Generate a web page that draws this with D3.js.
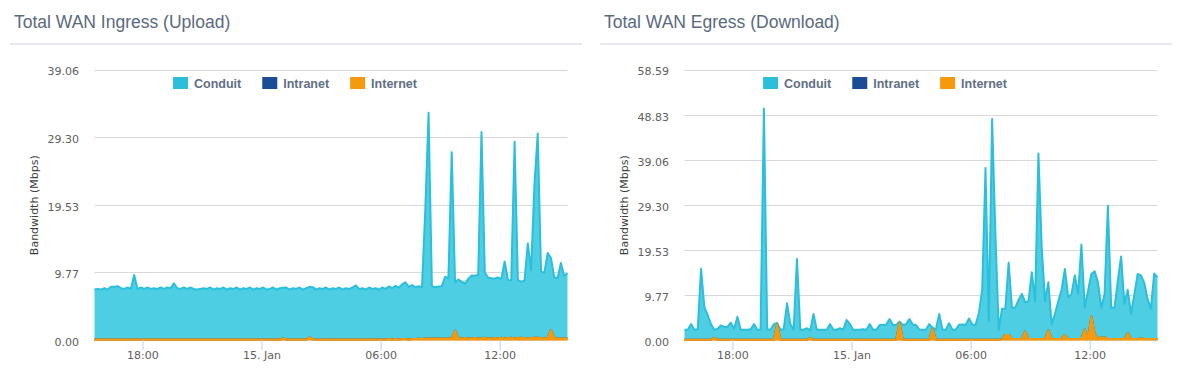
<!DOCTYPE html>
<html>
<head>
<meta charset="utf-8">
<script src="https://cdn.jsdelivr.net/npm/d3@7"></script>
<style>
    body { margin: 0; background: #fff; }
    svg { display: block; }
    .title { font-family: "Liberation Sans", Arial, sans-serif; font-size: 17.5px; fill: #5a6a7e; }
    .legend text { font-family: "Liberation Sans", Arial, sans-serif; font-size: 12.5px; font-weight: bold; fill: #616f84; }
    .axis text { font-family: "DejaVu Sans", sans-serif; font-size: 11px; fill: #606060; }
    .ytitle { font-family: "DejaVu Sans", sans-serif; font-size: 11px; fill: #3d3d3d; }
</style>
</head>
<body>
<svg id="chart" width="1178" height="371"></svg>
<script>
// samples every 10 minutes starting 14 Jan 15:35
const startTime = new Date(2016, 0, 14, 15, 35);
const stepMinutes = 10;

const seriesNames = ["Conduit", "Intranet", "Internet"];
const seriesColors = ["#2cbfdc", "#1b4d96", "#f7990c"];

const timeTicks = [
    new Date(2016, 0, 14, 18), new Date(2016, 0, 15, 0),
    new Date(2016, 0, 15, 6), new Date(2016, 0, 15, 12)
];
const ingressTicks = ["0.00", "9.77", "19.53", "29.30", "39.06"];
const egressTicks = ["0.00", "9.77", "19.53", "29.30", "39.06", "48.83", "58.59"];

// Total WAN Ingress (Upload), Mbps
const ingressConduit = [
    7.2, 7.3, 7.2, 7.4, 7.2, 7.6, 7.6, 7.7, 7.4, 7.3, 7.5, 7.3,
    9.3, 7.3, 7.5, 7.3, 7.5, 7.3, 7.4, 7.3, 7.5, 7.3, 7.5, 7.4,
    8.1, 7.4, 7.3, 7.5, 7.3, 7.5, 7.3, 7.2, 7.3, 7.4, 7.3, 7.5,
    7.2, 7.4, 7.3, 7.5, 7.2, 7.4, 7.3, 7.5, 7.2, 7.4, 7.3, 7.5,
    7.2, 7.4, 7.3, 7.5, 7.2, 7.3, 7.5, 7.2, 7.4, 7.3, 7.5, 7.2,
    7.4, 7.3, 7.5, 7.2, 7.4, 7.3, 7.5, 7.2, 7.4, 7.3, 7.5, 7.2,
    7.4, 7.3, 7.5, 7.2, 7.4, 7.3, 7.5, 7.8, 7.3, 7.4, 7.2, 7.5,
    7.3, 7.4, 7.2, 7.5, 7.3, 7.6, 7.4, 7.7, 7.5, 7.9, 8.2, 7.6,
    7.8, 7.5, 7.6, 7.5, 18.5, 32.6, 7.6, 7.4, 7.5, 7.6, 8.9, 8.7,
    26.9, 7.0, 8.5, 8.2, 7.9, 8.6, 9.1, 9.0, 9.2, 29.8, 9.4, 8.8,
    8.7, 8.6, 8.8, 8.5, 11.1, 8.4, 8.3, 28.4, 8.4, 8.1, 8.3, 13.7,
    9.8, 22.0, 29.5, 9.6, 9.5, 12.3, 10.4, 8.8, 8.7, 10.9, 9.0, 9.4
];
const ingressIntranet = [
    0, 0, 0, 0, 0, 0, 0, 0, 0, 0, 0, 0, 0, 0, 0, 0, 0, 0, 0, 0, 0, 0, 0, 0,
    0, 0, 0, 0, 0, 0, 0, 0, 0, 0, 0, 0, 0, 0, 0, 0, 0, 0, 0, 0, 0, 0, 0, 0,
    0, 0, 0, 0, 0, 0, 0, 0, 0, 0, 0, 0, 0, 0, 0, 0, 0, 0, 0, 0, 0, 0, 0, 0,
    0, 0, 0, 0, 0, 0, 0, 0, 0, 0, 0, 0, 0, 0, 0, 0, 0, 0, 0, 0, 0, 0, 0, 0,
    0, 0, 0, 0, 0, 0, 0, 0, 0, 0, 0, 0, 0, 0, 0, 0, 0, 0, 0, 0, 0, 0, 0, 0,
    0, 0, 0, 0, 0, 0, 0, 0, 0, 0, 0, 0, 0, 0, 0, 0, 0, 0, 0, 0, 0, 0, 0, 0
];
const ingressInternet = [
    0.15, 0.15, 0.15, 0.15, 0.15, 0.15, 0.15, 0.15, 0.15, 0.15, 0.15, 0.15,
    0.15, 0.15, 0.15, 0.15, 0.15, 0.15, 0.15, 0.15, 0.15, 0.15, 0.15, 0.15,
    0.15, 0.15, 0.15, 0.15, 0.15, 0.15, 0.15, 0.15, 0.15, 0.15, 0.15, 0.15,
    0.15, 0.15, 0.15, 0.15, 0.15, 0.15, 0.15, 0.15, 0.15, 0.15, 0.15, 0.15,
    0.15, 0.15, 0.15, 0.15, 0.15, 0.15, 0.15, 0.15, 0.15, 0.3, 0.15, 0.15,
    0.15, 0.15, 0.15, 0.15, 0.15, 0.45, 0.2, 0.15, 0.15, 0.15, 0.15, 0.15,
    0.15, 0.15, 0.15, 0.15, 0.15, 0.15, 0.15, 0.15, 0.15, 0.15, 0.15, 0.15,
    0.15, 0.15, 0.15, 0.15, 0.15, 0.2, 0.15, 0.2, 0.15, 0.2, 0.2, 0.15,
    0.2, 0.2, 0.25, 0.2, 0.3, 0.3, 0.25, 0.3, 0.3, 0.25, 0.3, 0.3,
    0.3, 1.44, 0.3, 0.3, 0.35, 0.3, 0.3, 0.35, 0.3, 0.3, 0.4, 0.3,
    0.3, 0.35, 0.3, 0.4, 0.3, 0.35, 0.4, 0.3, 0.35, 0.4, 0.35, 0.3,
    0.35, 0.4, 0.4, 0.35, 0.3, 0.35, 1.5, 0.35, 0.3, 0.3, 0.3, 0.3
];

// Total WAN Egress (Download), Mbps
const egressConduit = [
    2.2, 2.2, 3.4, 2.2, 2.3, 15.4, 7.1, 5.4, 3.4, 1.7, 2.4, 3.1,
    2.8, 2.8, 3.7, 2.4, 5.0, 2.2, 2.2, 2.2, 2.3, 3.4, 2.2, 2.2,
    50.1, 2.3, 2.2, 3.4, 0.3, 2.2, 2.3, 7.9, 3.4, 2.2, 17.5, 2.2,
    2.2, 2.5, 1.6, 5.6, 2.2, 2.2, 2.2, 2.2, 3.4, 2.2, 2.2, 2.5,
    2.2, 4.3, 3.4, 2.2, 2.2, 2.2, 2.3, 2.2, 3.4, 2.2, 2.2, 3.2,
    3.2, 3.3, 4.5, 3.2, 3.2, 0.3, 3.2, 3.4, 4.5, 3.3, 3.2, 2.2,
    2.2, 2.2, 3.4, 0.3, 2.2, 5.6, 2.2, 2.2, 3.6, 2.2, 2.2, 3.25,
    3.3, 3.25, 4.6, 3.3, 3.25, 5.8, 10.8, 37.2, 4.0, 47.8, 22.6, 2.2,
    6.6, 5.7, 15.7, 6.8, 6.8, 8.5, 9.8, 6.3, 8.2, 14.5, 8.2, 40.2,
    19.9, 8.2, 10.4, 3.2, 5.5, 8.2, 10.7, 14.3, 9.1, 9.8, 13.8, 9.8,
    20.5, 4.7, 10.5, 9.2, 13.5, 12.3, 6.4, 9.3, 28.9, 6.8, 6.8, 12.6,
    17.9, 7.6, 9.4, 5.5, 9.7, 14.1, 13.6, 12.2, 8.7, 6.6, 14.2, 13.4
];
const egressIntranet = [
    0, 0, 0, 0, 0, 0, 0, 0, 0, 0, 0, 0, 0, 0, 0, 0, 0, 0, 0, 0, 0, 0, 0, 0,
    0, 0, 0, 0, 0, 0, 0, 0, 0, 0, 0, 0, 0, 0, 0, 0, 0, 0, 0, 0, 0, 0, 0, 0,
    0, 0, 0, 0, 0, 0, 0, 0, 0, 0, 0, 0, 0, 0, 0, 0, 0, 0, 0, 0, 0, 0, 0, 0,
    0, 0, 0, 0, 0, 0, 0, 0, 0, 0, 0, 0, 0, 0, 0, 0, 0, 0, 0, 0, 0, 0, 0, 0,
    0, 0, 0, 0, 0, 0, 0, 0, 0, 0, 0, 0, 0, 0, 0, 0, 0, 0, 0, 0, 0, 0, 0, 0,
    0, 0, 0, 0, 0, 0, 0, 0, 0, 0, 0, 0, 0, 0, 0, 0, 0, 0, 0, 0, 0, 0, 0, 0
];
const egressInternet = [
    0.15, 0.15, 0.15, 0.15, 0.15, 0.15, 0.15, 0.15, 0.15, 0.6, 0.15, 0.15,
    0.15, 0.15, 0.15, 0.15, 0.15, 0.15, 0.15, 0.15, 0.15, 0.15, 0.15, 0.15,
    0.15, 0.15, 0.15, 0.15, 3.5, 0.15, 0.15, 0.15, 0.15, 0.15, 0.15, 0.15,
    0.15, 0.15, 0.6, 0.15, 0.15, 0.15, 0.15, 0.15, 0.15, 0.15, 0.15, 0.15,
    0.15, 0.15, 0.15, 0.15, 0.15, 0.15, 0.15, 0.15, 0.15, 0.15, 0.15, 0.15,
    0.15, 0.15, 0.15, 0.15, 0.15, 3.8, 0.15, 0.15, 0.15, 0.15, 0.15, 0.15,
    0.15, 0.15, 0.15, 2.5, 0.15, 0.15, 0.15, 0.15, 0.15, 0.15, 0.15, 0.15,
    0.15, 0.15, 0.15, 0.15, 0.15, 0.15, 0.15, 0.15, 0.15, 0.15, 0.15, 0.15,
    0.3, 1.2, 1.2, 0.3, 0.3, 0.3, 0.3, 2.0, 0.3, 0.3, 0.3, 0.3,
    0.3, 0.3, 2.2, 0.3, 0.3, 0.3, 0.3, 1.2, 0.3, 0.3, 0.3, 0.3,
    0.3, 2.4, 0.3, 5.2, 1.5, 0.3, 0.7, 0.7, 0.3, 0.3, 0.3, 0.3,
    0.3, 0.3, 1.6, 0.3, 0.3, 0.3, 0.5, 0.3, 0.3, 0.3, 0.3, 0.3
];

const svg = d3.select("#chart");
const fmtTime = d => d.getHours() === 0 ? d3.timeFormat("%-d. %b")(d) : d3.timeFormat("%H:%M")(d);

function drawPanel(ox, title, tickLabels, conduit, intranet, internet) {
    const g = svg.append("g").attr("transform", `translate(${ox},0)`);

    g.append("text").attr("class", "title").attr("x", 14).attr("y", 28).text(title);
    g.append("rect").attr("x", 10).attr("y", 43).attr("width", 572).attr("height", 2).attr("fill", "#e6e9ed");

    const plot = { left: 94.5, right: 567.5, top: 70, bottom: 340.5 };
    const yTicks = tickLabels.map(Number);
    const y = d3.scaleLinear().domain([0, d3.max(yTicks)]).range([plot.bottom, plot.top]);
    const times = conduit.map((_, i) => d3.timeMinute.offset(startTime, i * stepMinutes));
    const x = d3.scaleTime().domain(d3.extent(times)).range([plot.left, plot.right]);

    // grid lines
    g.append("g").selectAll("line").data(yTicks).join("line")
        .attr("x1", plot.left).attr("x2", plot.right)
        .attr("y1", d => Math.floor(y(d)) + 0.5).attr("y2", d => Math.floor(y(d)) + 0.5)
        .attr("stroke", "#d8d8d8").attr("stroke-width", 1);

    // y axis labels
    const yAxis = g.append("g").attr("class", "axis")
        .attr("transform", `translate(${plot.left},0)`)
        .call(d3.axisLeft(y).tickValues(yTicks).tickFormat((d, i) => tickLabels[i]).tickSize(0).tickPadding(15.5));
    yAxis.select(".domain").remove();
    yAxis.selectAll("text").attr("dy", "0.45em");

    g.append("text").attr("class", "ytitle")
        .attr("transform", `translate(38,${(plot.top + plot.bottom) / 2}) rotate(-90)`)
        .attr("text-anchor", "middle")
        .text("Bandwidth (Mbps)");

    // stacked areas
    const rows = times.map((t, i) => ({ time: t, Conduit: conduit[i], Intranet: intranet[i], Internet: internet[i] }));
    const layers = d3.stack().keys(["Internet", "Intranet", "Conduit"])(rows);
    const area = d3.area().x(d => x(d.data.time)).y0(d => y(d[0])).y1(d => y(d[1]));
    const line = d3.line().x(d => x(d.data.time)).y(d => y(d[1]));

    const fills = { Conduit: "#4ecee3", Intranet: "#1b4d96", Internet: "#f7990c" };
    const strokes = { Conduit: "#2cbfdc", Intranet: "#1b4d96", Internet: "#f7990c" };
    ["Conduit", "Intranet", "Internet"].forEach(key => {
        const layer = layers.find(l => l.key === key);
        g.append("path").datum(layer).attr("d", area).attr("fill", fills[key]);
        g.append("path").datum(layer).attr("d", line)
            .attr("fill", "none").attr("stroke", strokes[key]).attr("stroke-width", 2)
            .attr("stroke-linejoin", "round");
    });

    // x axis
    const xAxis = g.append("g").attr("class", "axis")
        .attr("transform", `translate(0,${plot.bottom - 0.5})`)
        .call(d3.axisBottom(x).tickValues(timeTicks).tickFormat(fmtTime).tickSize(10).tickSizeOuter(0).tickPadding(1));
    xAxis.select(".domain").attr("stroke", "none");
    xAxis.selectAll(".tick line").attr("stroke", "#c0d0e0");

    // legend
    const legend = g.append("g").attr("class", "legend");
    const items = legend.selectAll("g").data(seriesNames).join("g");
    items.append("rect").attr("width", 15).attr("height", 12).attr("y", 77)
        .attr("fill", (d, i) => seriesColors[i]);
    items.append("text").attr("x", 21).attr("y", 87.5).text(d => d);
    let cursor = 0;
    const widths = [];
    items.each(function () {
        widths.push(21 + this.querySelector("text").getComputedTextLength());
    });
    const total = d3.sum(widths) + 21 * (widths.length - 1);
    cursor = 295 - total / 2;
    items.attr("transform", (d, i) => {
        const tx = cursor;
        cursor += widths[i] + 21;
        return `translate(${tx},0)`;
    });
}

drawPanel(0, "Total WAN Ingress (Upload)", ingressTicks, ingressConduit, ingressIntranet, ingressInternet);
drawPanel(590, "Total WAN Egress (Download)", egressTicks, egressConduit, egressIntranet, egressInternet);
</script>
</body>
</html>
